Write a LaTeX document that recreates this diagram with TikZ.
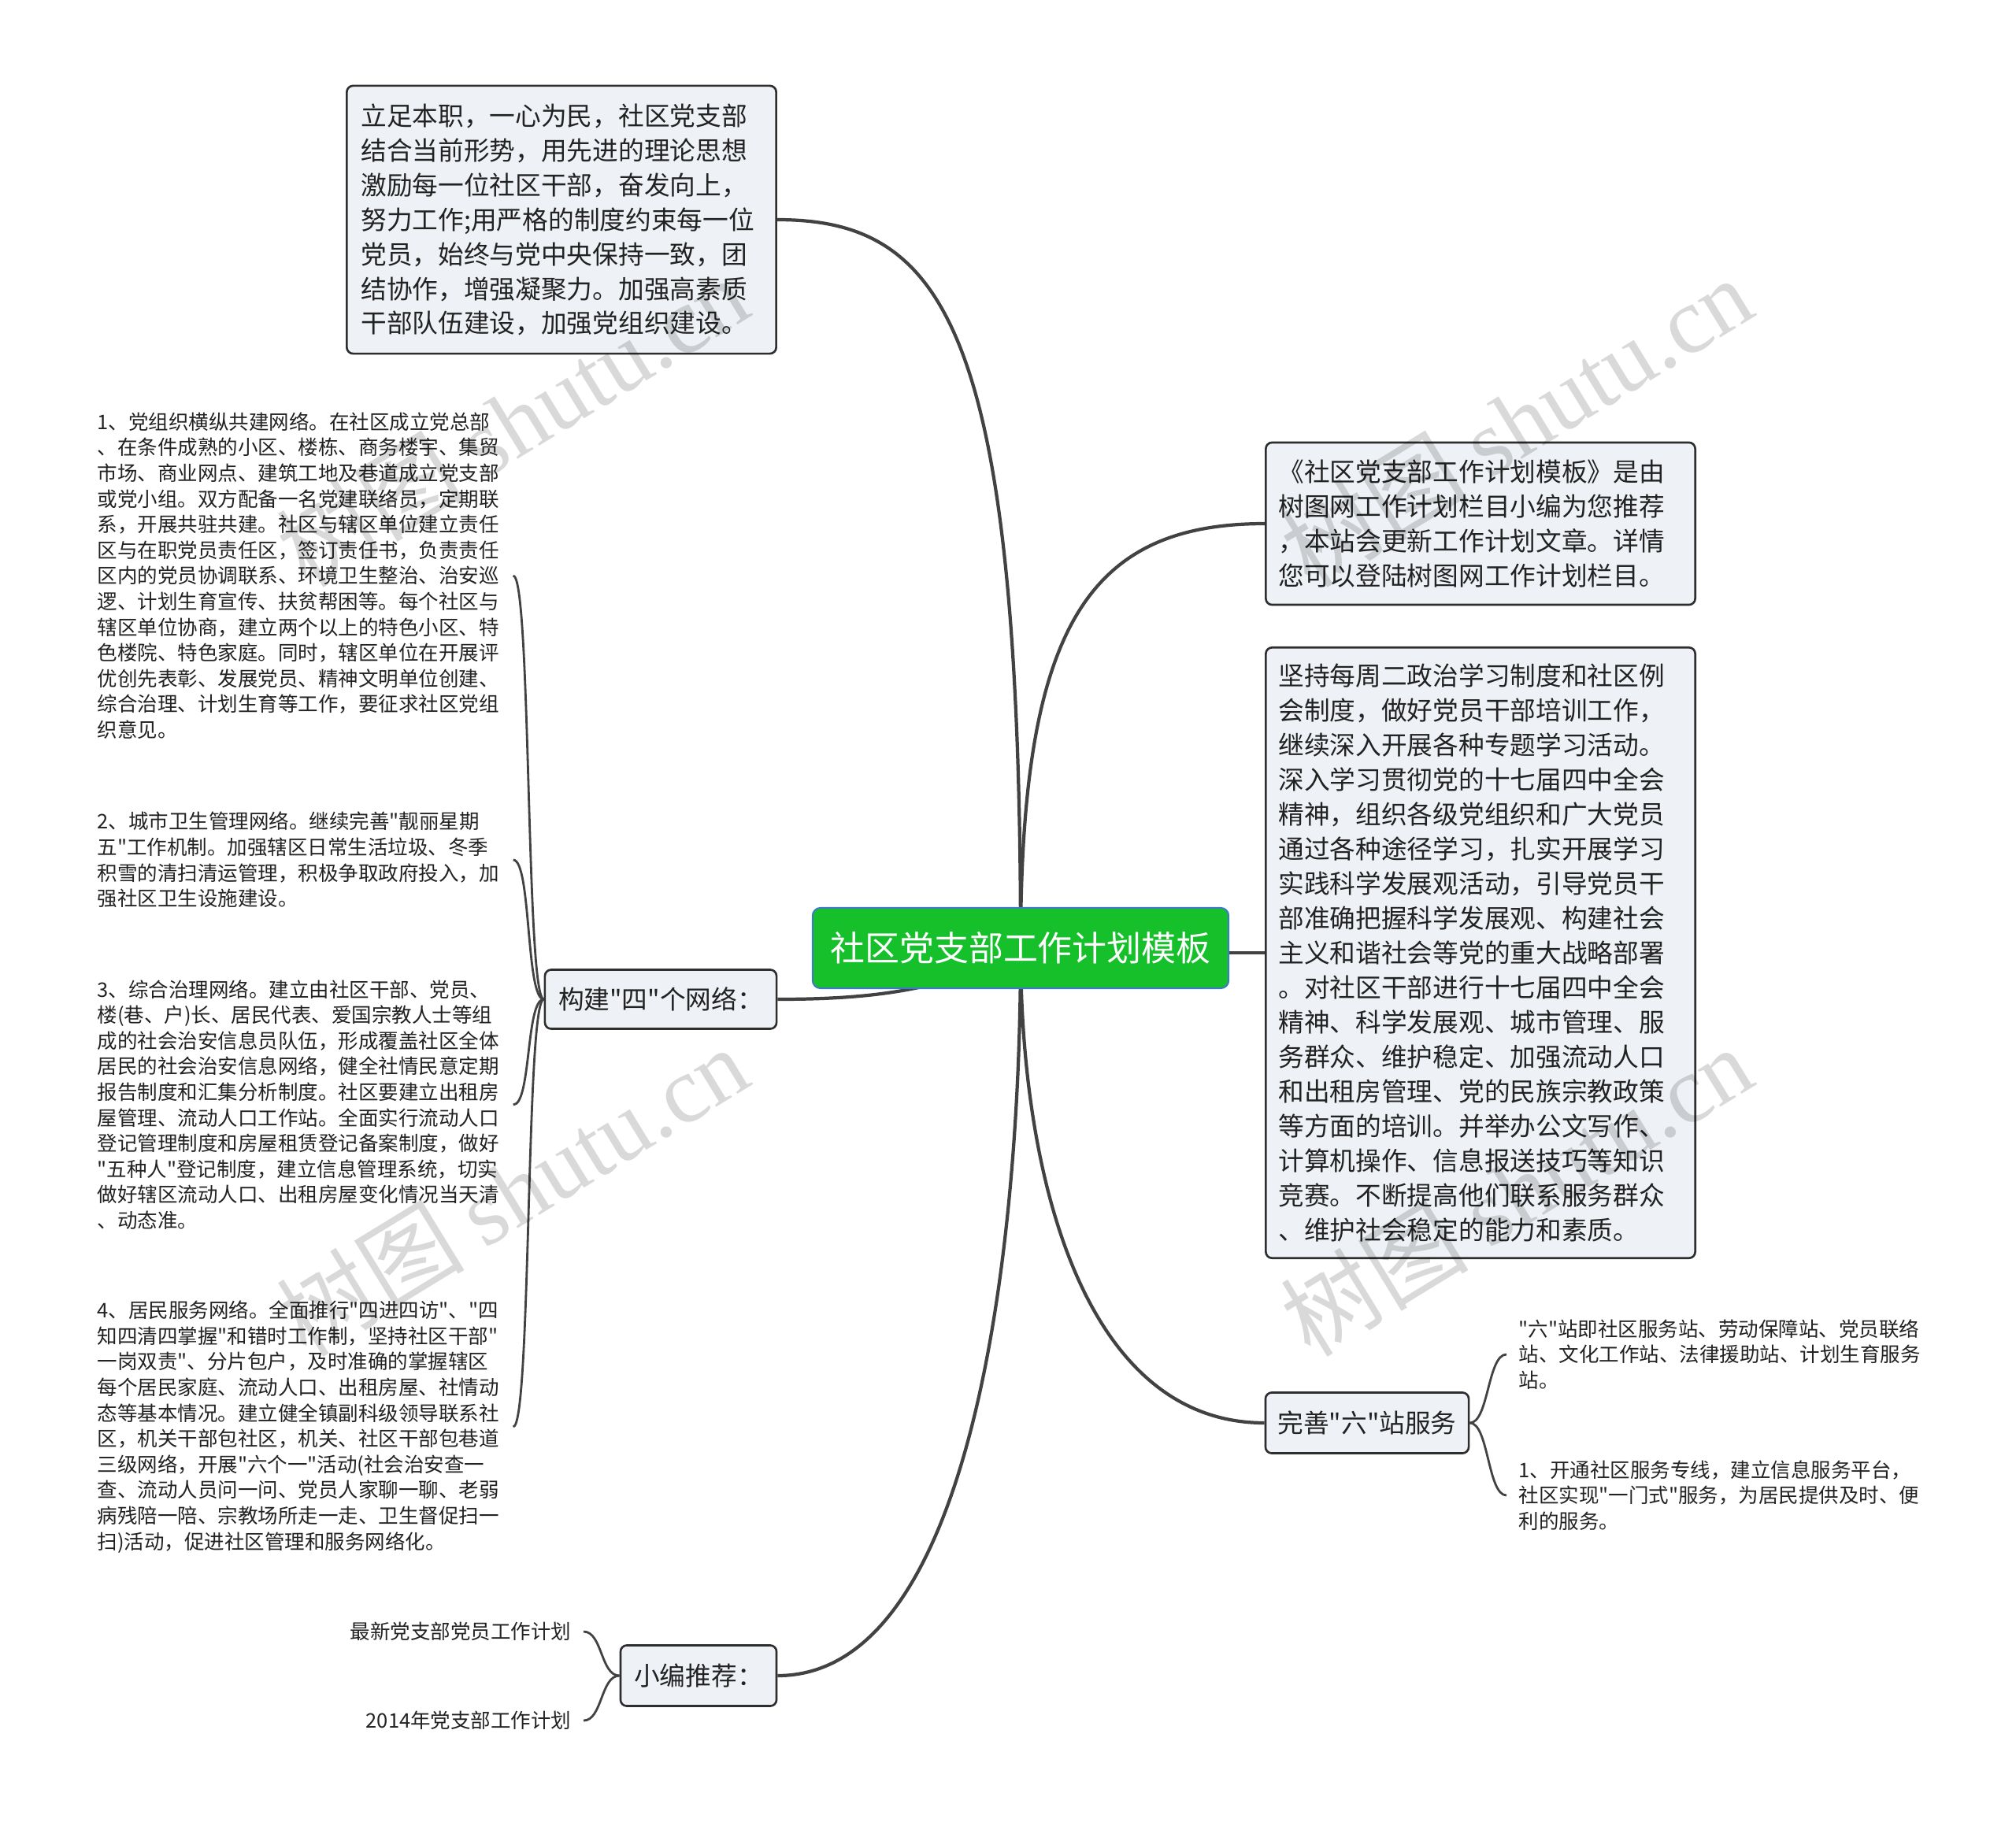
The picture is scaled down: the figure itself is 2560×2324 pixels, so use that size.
\documentclass[tikz,border=0pt]{standalone}
\usepackage{fontspec}
\setmainfont{Noto Sans CJK SC}[Ligatures=TeXOff]
\newfontfamily\wmlatin{Liberation Serif}
\usepackage{xcolor}
\usepackage{tikz}
\usetikzlibrary{positioning}
\definecolor{mmgreen}{HTML}{15C02B}
\definecolor{mmblue}{HTML}{3A7DC0}
\definecolor{mmfill}{HTML}{EEF1F5}
\definecolor{mmedge}{HTML}{2E2E2E}
\definecolor{mmlink}{HTML}{424242}
\definecolor{mmtext}{HTML}{222222}
\newcommand\rootfont{\fontsize{12.5pt}{15pt}\selectfont}
\newcommand\topicfont{\fontsize{9.3pt}{12.5pt}\selectfont}
\newcommand\notefont{\fontsize{7.25pt}{9.27pt}\selectfont}

\begin{document}
\begin{tikzpicture}[x=0.01cm,y=-0.01cm,text=mmtext,
  rootbox/.style={fill=mmgreen,draw=mmblue,line width=0.6pt,rounded corners=0.1cm,
    text=white,font=\rootfont,minimum width=5.28cm,minimum height=1.02cm},
  topicbox/.style={fill=mmfill,draw=mmedge,line width=0.75pt,rounded corners=0.08cm,
    align=left,font=\topicfont,inner sep=0.15cm},
  textbox/.style={topicbox,inner xsep=0.16cm,text width=5.13cm},
  notetext/.style={align=left,font=\notefont,text width=5.12cm,inner xsep=0.15cm,inner ysep=0pt},
  trunk/.style={draw=mmlink,line width=1.2pt},
  twig/.style={draw=mmlink,line width=0.8pt},
  watermark/.style={rotate=31.5,text=black,text opacity=0.15,font=\fontsize{34pt}{34pt}\selectfont}]
  \useasboundingbox (0,0) rectangle (2560,2324);

  % main topics
  \node[textbox,minimum height=3.40cm,inner xsep=0.18cm,text width=5.09cm] (plan) at (713,279) {立足本职，一心为民，社区党支部\\结合当前形势，用先进的理论思想\\激励每一位社区干部，奋发向上，\\努力工作;用严格的制度约束每一位\\党员，始终与党中央保持一致，团\\结协作，增强凝聚力。加强高素质\\干部队伍建设，加强党组织建设。};
  \node[textbox,minimum height=2.06cm] (intro) at (1880,665) {《社区党支部工作计划模板》是由\\树图网工作计划栏目小编为您推荐\\，本站会更新工作计划文章。详情\\您可以登陆树图网工作计划栏目。};
  \node[textbox,minimum height=7.75cm] (study) at (1880,1210) {坚持每周二政治学习制度和社区例\\会制度，做好党员干部培训工作，\\继续深入开展各种专题学习活动。\\深入学习贯彻党的十七届四中全会\\精神，组织各级党组织和广大党员\\通过各种途径学习，扎实开展学习\\实践科学发展观活动，引导党员干\\部准确把握科学发展观、构建社会\\主义和谐社会等党的重大战略部署\\。对社区干部进行十七届四中全会\\精神、科学发展观、城市管理、服\\务群众、维护稳定、加强流动人口\\和出租房管理、党的民族宗教政策\\等方面的培训。并举办公文写作、\\计算机操作、信息报送技巧等知识\\竞赛。不断提高他们联系服务群众\\、维护社会稳定的能力和素质。};
  \node[topicbox,minimum width=2.94cm,minimum height=0.75cm] (net) at (839,1269) {构建"四"个网络：};
  \node[topicbox,minimum width=2.58cm,minimum height=0.77cm] (six) at (1736,1807) {完善"六"站服务};
  \node[topicbox,minimum width=1.98cm,minimum height=0.77cm] (rec) at (887,2128) {小编推荐：};

  % trunk lines, drawn under the centre
  \draw[trunk] (plan.east) .. controls +(214,0) and +(0,-784) .. (1296,1204);
  \draw[trunk] (intro.west) .. controls +(-227,0) and +(0,-404) .. (1296,1204);
  \draw[trunk] (1296,1210) -- (study.west);
  \draw[trunk] (six.west) .. controls +(-227,0) and +(0,296) .. (1296,1204);
  \draw[trunk] (rec.east) .. controls +(244,0) and +(0,396) .. (1296,1204);
  \draw[trunk] (net.east) .. controls +(114,0) and +(-90,55) .. (1296,1204);

  \node[rootbox] (root) at (1296,1204) {社区党支部工作计划模板};

  % the four networks
  \foreach \name/\y/\txt in {
      n1/731/{1、党组织横纵共建网络。在社区成立党总部\\、在条件成熟的小区、楼栋、商务楼宇、集贸\\市场、商业网点、建筑工地及巷道成立党支部\\或党小组。双方配备一名党建联络员，定期联\\系，开展共驻共建。社区与辖区单位建立责任\\区与在职党员责任区，签订责任书，负责责任\\区内的党员协调联系、环境卫生整治、治安巡\\逻、计划生育宣传、扶贫帮困等。每个社区与\\辖区单位协商，建立两个以上的特色小区、特\\色楼院、特色家庭。同时，辖区单位在开展评\\优创先表彰、发展党员、精神文明单位创建、\\综合治理、计划生育等工作，要征求社区党组\\织意见。},
      n2/1092/{2、城市卫生管理网络。继续完善"靓丽星期\\五"工作机制。加强辖区日常生活垃圾、冬季\\积雪的清扫清运管理，积极争取政府投入，加\\强社区卫生设施建设。},
      n3/1403/{3、综合治理网络。建立由社区干部、党员、\\楼(巷、户)长、居民代表、爱国宗教人士等组\\成的社会治安信息员队伍，形成覆盖社区全体\\居民的社会治安信息网络，健全社情民意定期\\报告制度和汇集分析制度。社区要建立出租房\\屋管理、流动人口工作站。全面实行流动人口\\登记管理制度和房屋租赁登记备案制度，做好\\"五种人"登记制度，建立信息管理系统，切实\\做好辖区流动人口、出租房屋变化情况当天清\\、动态准。},
      n4/1812/{4、居民服务网络。全面推行"四进四访"、"四\\知四清四掌握"和错时工作制，坚持社区干部"\\一岗双责"、分片包户，及时准确的掌握辖区\\每个居民家庭、流动人口、出租房屋、社情动\\态等基本情况。建立健全镇副科级领导联系社\\区，机关干部包社区，机关、社区干部包巷道\\三级网络，开展"六个一"活动(社会治安查一\\查、流动人员问一问、党员人家聊一聊、老弱\\病残陪一陪、宗教场所走一走、卫生督促扫一\\扫)活动，促进社区管理和服务网络化。}} {
    \node[notetext,anchor=west] (\name) at (108,\y) {\txt};
    \draw[twig] (net.west) .. controls +(-23,0) and +(23,0) .. (\name.east);
  }

  % six stations
  \foreach \name/\y/\txt in {
      r1/1720/{"六"站即社区服务站、劳动保障站、党员联络\\站、文化工作站、法律援助站、计划生育服务\\站。},
      r2/1899/{1、开通社区服务专线，建立信息服务平台，\\社区实现"一门式"服务，为居民提供及时、便\\利的服务。}} {
    \node[notetext,anchor=west] (\name) at (1913,\y) {\txt};
    \draw[twig] (six.east) .. controls +(24,0) and +(-24,0) .. (\name.west);
  }

  % recommendations
  \foreach \name/\y/\txt in {m1/2072/最新党支部党员工作计划, m2/2185/2014年党支部工作计划} {
    \node[font=\notefont,inner xsep=0.15cm,inner ysep=0pt,anchor=east] (\name) at (741,\y) {\txt};
    \draw[twig] (rec.west) .. controls +(-24,0) and +(24,0) .. (\name.east);
  }

  % site marks
  \foreach \wx/\wy [count=\k] in {650/535,1925/535,650/1512,1925/1512}
    \node[watermark] (wm\k) at (\wx,\wy) {树图 {\wmlatin shutu.cn}};
\end{tikzpicture}
\end{document}
